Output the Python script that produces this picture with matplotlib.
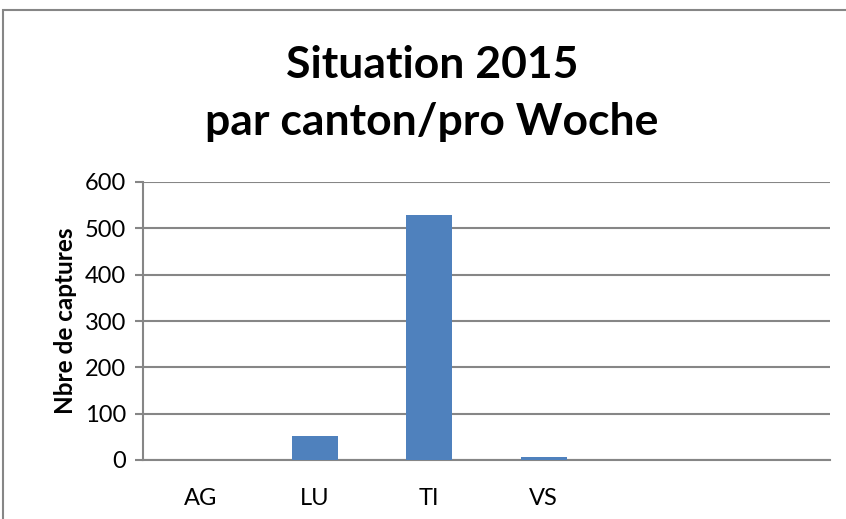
import numpy as np
import matplotlib.pyplot as plt
from matplotlib.patches import Rectangle

cantons = ["AG", "LU", "TI", "VS", "", ""]
captures = [1, 52, 529, 6, 0, 0]
yticks = [0, 100, 200, 300, 400, 500, 600]

plt.rcParams['font.family'] = ['Lato', 'DejaVu Sans']

W, H = 846, 519
fig = plt.figure(figsize=(W / 100, H / 100), dpi=100)
ax = fig.add_axes([143 / W, 1 - 460 / H, (830 - 143) / W, (460 - 182) / H])

x = np.arange(len(cantons))
ax.bar(x[:4], captures[:4], width=0.4, color='#4f81bd', zorder=3)
ax.set_xlim(-0.5, len(cantons) - 0.5)
ax.set_ylim(0, 600)
ax.set_yticks(yticks)
ax.set_xticks(x)
ax.set_xticklabels(cantons, fontsize=17)
ax.tick_params(axis='x', length=0, pad=20)
ax.tick_params(axis='y', length=6, width=1.5, color='#868686', labelsize=17, pad=6)
ax.grid(axis='y', color='#868686', linewidth=1.5, zorder=0)
for s in ['top', 'right']:
    ax.spines[s].set_visible(False)
ax.spines['left'].set_color('#868686')
ax.spines['left'].set_linewidth(1.5)
ax.spines['bottom'].set_color('#868686')
ax.spines['bottom'].set_linewidth(1.5)

ax.set_ylabel('Nbre de captures', fontsize=17.5, fontweight='bold', labelpad=6)

fig.text(432 / W, 1 - 65 / H, 'Situation 2015', ha='center', va='center',
         fontsize=32, fontweight='bold')
fig.text(432 / W, 1 - 122 / H, 'par canton/pro Woche', ha='center', va='center',
         fontsize=32, fontweight='bold')

fig.patches.append(Rectangle((3 / W, -0.1), 1.2, 1 - 10 / H + 0.1,
                             transform=fig.transFigure, fill=False,
                             edgecolor='#868686', linewidth=1.5))

fig.savefig('out.png', dpi=100)
